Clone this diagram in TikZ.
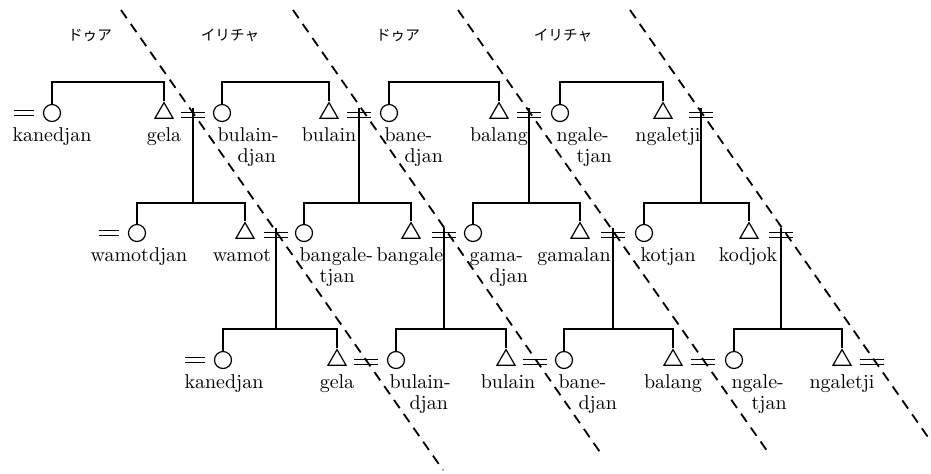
\documentclass[tikz,border=0pt]{standalone}
\usepackage{fontspec}
\newfontfamily\jpfont{Noto Sans CJK JP}
\usetikzlibrary{shapes.geometric}

\begin{document}
\begin{tikzpicture}[
    x=0.5pt, y=-0.5pt,
    line width=0.6pt,
    female/.style={
        circle,
        draw,
        inner sep=0pt,
        minimum size=8.5pt
    },
    male/.style={
        regular polygon,
        regular polygon sides=3,
        draw,
        inner sep=0pt,
        minimum size=10.4pt
    },
    term/.style={
        font=\fontsize{10}{10.5}\selectfont,
        inner sep=0pt,
        align=left
    },
    moiety/.style={
        font=\jpfont\fontsize{7.3}{8}\selectfont,
        inner sep=0pt
    },
    marry/.style={double, double distance=1.6pt, line width=0.5pt},
    divide/.style={dash pattern=on 5pt off 3.5pt, line width=0.9pt}
]
\useasboundingbox (0,0) rectangle (931,473);

% Moiety names
\node[moiety] (dua1) at (90,35) {ドゥア};
\node[moiety] (yiritja1) at (230,35) {イリチャ};
\node[moiety] (dua2) at (398,35) {ドゥア};
\node[moiety] (yiritja2) at (563,35) {イリチャ};

% First generation
\node[female] (f11) at (52,113) {};   \node[male] (m11) at (164,113) {};
\node[female] (f12) at (222,113) {};  \node[male] (m12) at (329,113) {};
\node[female] (f13) at (389,113) {};  \node[male] (m13) at (499,113) {};
\node[female] (f14) at (560,113) {};  \node[male] (m14) at (663,113) {};
\coordinate (u11) at (108,82);  \coordinate (u12) at (275,82);
\coordinate (u13) at (444,82);  \coordinate (u14) at (611,82);
\coordinate (s11) at (193,115); \coordinate (s12) at (359,115);
\coordinate (s13) at (529,115); \coordinate (s14) at (701,115);

% (two-line names sit on the baseline of their second line)
\node[term,anchor=base] (nf11) at (52,141) {kanedjan};
\node[term,anchor=base] (nm11) at (164,141) {gela};
\node[term,anchor=base west] (nf12) at (217,162) {bulain-\\\quad djan};
\node[term,anchor=base] (nm12) at (329,141) {bulain};
\node[term,anchor=base west] (nf13) at (384,162) {bane-\\\quad djan};
\node[term,anchor=base] (nm13) at (499,141) {balang};
\node[term,anchor=base west] (nf14) at (556,162) {ngale-\\\quad tjan};
\node[term,anchor=base] (nm14) at (668,141) {ngaletji};

% Second generation
\node[female] (f21) at (137,233) {};  \node[male] (m21) at (245,233) {};
\node[female] (f22) at (304,233) {};  \node[male] (m22) at (411,233) {};
\node[female] (f23) at (473,233) {};  \node[male] (m23) at (580,233) {};
\node[female] (f24) at (644,233) {};  \node[male] (m24) at (749,233) {};
\coordinate (u21) at (193,203); \coordinate (u22) at (359,203);
\coordinate (u23) at (529,203); \coordinate (u24) at (701,203);
\coordinate (s21) at (276,235); \coordinate (s22) at (444,235);
\coordinate (s23) at (613,235); \coordinate (s24) at (781,235);

\node[term,anchor=base] (nf21) at (139,261) {wamotdjan};
\node[term,anchor=base] (nm21) at (242,261) {wamot};
\node[term,anchor=base west] (nf22) at (299,282) {bangale-\\\quad tjan};
\node[term,anchor=base] (nm22) at (410,261) {bangale};
\node[term,anchor=base west] (nf23) at (469,282) {gama-\\\quad djan};
\node[term,anchor=base] (nm23) at (574,261) {gamalan};
\node[term,anchor=base west] (nf24) at (640,261) {kotjan};
\node[term,anchor=base] (nm24) at (748,261) {kodjok};

% Third generation
\node[female] (f31) at (223,360) {};  \node[male] (m31) at (337,360) {};
\node[female] (f32) at (396,360) {};  \node[male] (m32) at (506,360) {};
\node[female] (f33) at (564,360) {};  \node[male] (m33) at (673,360) {};
\node[female] (f34) at (734,360) {};  \node[male] (m34) at (842,360) {};
\coordinate (u31) at (276,329); \coordinate (u32) at (444,329);
\coordinate (u33) at (613,329); \coordinate (u34) at (781,329);
\coordinate (s31) at (366,362); \coordinate (s32) at (535,362);
\coordinate (s33) at (703,362); \coordinate (s34) at (872,362);

\node[term,anchor=base] (nf31) at (224,388) {kanedjan};
\node[term,anchor=base] (nm31) at (337,388) {gela};
\node[term,anchor=base west] (nf32) at (389,409) {bulain-\\\quad djan};
\node[term,anchor=base] (nm32) at (508,388) {bulain};
\node[term,anchor=base west] (nf33) at (558,409) {bane-\\\quad djan};
\node[term,anchor=base] (nm33) at (673,388) {balang};
\node[term,anchor=base west] (nf34) at (731,409) {ngale-\\\quad tjan};
\node[term,anchor=base] (nm34) at (842,388) {ngaletji};

% Sibling brackets
\foreach \g in {1,2,3} {
  \foreach \k in {1,2,3,4} {
    \draw (f\g\k.north) |- (u\g\k) -| (m\g\k.north);
    \draw[marry] ([xshift=-6pt]s\g\k) -- ([xshift=6pt]s\g\k);
  }
  \draw[marry] ([xshift=-19pt]f\g1.center) -- ([xshift=-9pt]f\g1.center);
}

% Descent lines
\foreach \k in {1,2,3,4} {
  \draw ([yshift=3.5pt]s1\k) -- (u2\k);
  \draw ([yshift=3.5pt]s2\k) -- (u3\k);
}

% Moiety boundaries
\draw[divide] (121,10) -- (443,470);
\draw[divide] (293,10) -- (602,455);
\draw[divide] (458,10) -- (770,455);
\draw[divide] (630,10) -- (930,440);

\end{tikzpicture}
\end{document}
